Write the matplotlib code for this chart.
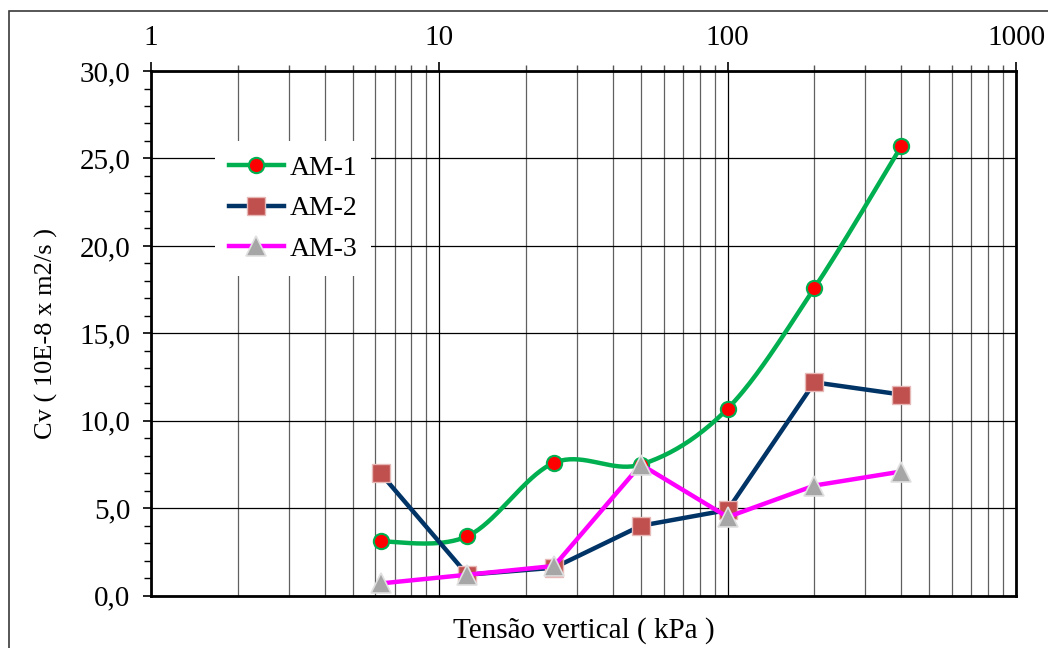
import numpy as np
import matplotlib
matplotlib.use("Agg")
import matplotlib.pyplot as plt
from matplotlib.ticker import FixedLocator, LogLocator, FuncFormatter, MultipleLocator
from matplotlib.patches import Rectangle

# Vertical stress steps (kPa) and consolidation coefficient Cv (10E-8 m2/s)
tensao = [6.25, 12.5, 25, 50, 100, 200, 400]
am1 = [3.1, 3.4, 7.6, 7.5, 10.7, 17.6, 25.7]
am2 = [7.0, 1.2, 1.6, 4.0, 4.9, 12.2, 11.5]
am3 = [0.7, 1.2, 1.7, 7.5, 4.5, 6.3, 7.1]
series_names = ["AM-1", "AM-2", "AM-3"]
x_ticks = [1, 10, 100, 1000]
y_ticks = [0, 5, 10, 15, 20, 25, 30]

plt.rcParams["font.family"] = ["Liberation Serif", "DejaVu Serif"]

fig = plt.figure(figsize=(10.48, 6.48), dpi=100)
ax = fig.add_axes([0.1441, 0.0807, 0.9695 - 0.1441, 0.8904 - 0.0807])

xlim = (1, 1000)
ylim = (0, 30)
ax.set_xscale("log")
ax.set_xlim(*xlim)
ax.set_ylim(*ylim)

# Excel-style smoothed curve: Catmull-Rom Bezier segments in screen-proportional space
fig_w, fig_h = fig.get_size_inches() * fig.dpi
pos = ax.get_position()
sx = pos.width * fig_w / (np.log10(xlim[1]) - np.log10(xlim[0]))
sy = pos.height * fig_h / (ylim[1] - ylim[0])


def smooth_curve(xs, ys, n=40):
    P = np.column_stack([np.log10(xs) * sx, np.asarray(ys) * sy])
    out = []
    for i in range(len(P) - 1):
        p0 = P[i - 1] if i > 0 else P[i]
        p1, p2 = P[i], P[i + 1]
        p3 = P[i + 2] if i + 2 < len(P) else P[i + 1]
        c1 = p1 + (p2 - p0) / 6.0
        c2 = p2 - (p3 - p1) / 6.0
        t = np.linspace(0, 1, n)[:, None]
        seg = ((1 - t) ** 3) * p1 + 3 * ((1 - t) ** 2) * t * c1 + 3 * (1 - t) * t ** 2 * c2 + t ** 3 * p2
        out.append(seg if i == 0 else seg[1:])
    pts = np.vstack(out)
    return 10 ** (pts[:, 0] / sx), pts[:, 1] / sy


green = "#00B050"
navy = "#003366"
magenta = "#FF00FF"

s1 = dict(color=green, lw=3.2, marker="o", ms=11, mfc="#FF0000", mec=green, mew=1.5)
s2 = dict(color=navy, lw=3.2, marker="s", ms=13.5, mfc="#C0504D", mec="#E6B9B8", mew=1.0)
s3 = dict(color=magenta, lw=3.2, marker="^", ms=14, mfc="#A6A6A6", mec="#E0E0E0", mew=1.2)

cx, cy = smooth_curve(tensao, am1)
ax.plot(cx, cy, color=green, lw=3.2, zorder=3, solid_capstyle="round")
ax.plot(tensao, am1, ls="none", marker="o", ms=11, mfc="#FF0000", mec=green, mew=1.5, zorder=4)

ax.plot(tensao, am2, color=navy, lw=3.2, zorder=5)
ax.plot(tensao, am2, ls="none", marker="s", ms=13.5, mfc="#C0504D", mec="#E6B9B8", mew=1.0, zorder=6)

ax.plot(tensao, am3, color=magenta, lw=3.2, zorder=7)
ax.plot(tensao, am3, ls="none", marker="^", ms=14, mfc="#A6A6A6", mec="#E0E0E0", mew=1.2, zorder=8)

# Legend proxies
h1, = ax.plot([], [], **s1)
h2, = ax.plot([], [], **s2)
h3, = ax.plot([], [], **s3)
leg = ax.legend([h1, h2, h3], series_names, loc="upper left", bbox_to_anchor=(0.064, 0.882),
                frameon=True, fontsize=20, handlelength=2.0, handletextpad=0.2,
                labelspacing=0.55, borderpad=0.5, borderaxespad=0.3, fancybox=False, framealpha=1.0)
leg.get_frame().set_edgecolor("none")
leg.get_frame().set_facecolor("white")
leg.set_zorder(10)

# Axes, ticks and grid
ax.xaxis.set_ticks_position("top")
ax.xaxis.set_label_position("bottom")
ax.xaxis.set_major_locator(FixedLocator(x_ticks))
ax.xaxis.set_minor_locator(LogLocator(base=10, subs=np.arange(2, 10), numticks=20))
ax.xaxis.set_major_formatter(FuncFormatter(lambda v, p: f"{v:g}"))
ax.xaxis.set_minor_formatter(FuncFormatter(lambda v, p: ""))
ax.yaxis.set_major_locator(FixedLocator(y_ticks))
ax.yaxis.set_minor_locator(MultipleLocator(1))
ax.yaxis.set_major_formatter(FuncFormatter(lambda v, p: f"{v:.1f}".replace(".", ",")))

ax.tick_params(axis="x", which="major", direction="out", length=6.5, width=1.2, labelsize=21, pad=8, colors="black")
ax.tick_params(axis="x", which="minor", direction="out", length=4.3, width=1.0, color="#555555")
ax.tick_params(axis="y", which="major", direction="out", length=6, width=1.2, labelsize=21, pad=9)
ax.tick_params(axis="y", which="minor", direction="out", length=5, width=1.0)

ax.grid(which="major", axis="x", color="black", lw=0.9, zorder=1)
ax.grid(which="minor", axis="x", color="#606060", lw=0.9, zorder=1)
ax.grid(which="major", axis="y", color="black", lw=0.9, zorder=1)
ax.set_axisbelow(True)

for s in ax.spines.values():
    s.set_linewidth(2.0)
    s.set_color("black")

ax.set_xlabel("Tensão vertical ( kPa )", fontsize=21)
ax.set_ylabel("Cv ( 10E-8 x m2/s )", fontsize=19)
ax.xaxis.set_label_coords(0.5, -0.04)
ax.yaxis.set_label_coords(-0.1075, 0.5)

# Outer chart frame
fig.patches.append(Rectangle((9 / 1048, -0.05), 1.2, 1 - 11 / 648 + 0.05, transform=fig.transFigure,
                             fill=False, edgecolor="#3a3a3a", lw=1.2, zorder=0))

fig.savefig("out.png", dpi=100)
